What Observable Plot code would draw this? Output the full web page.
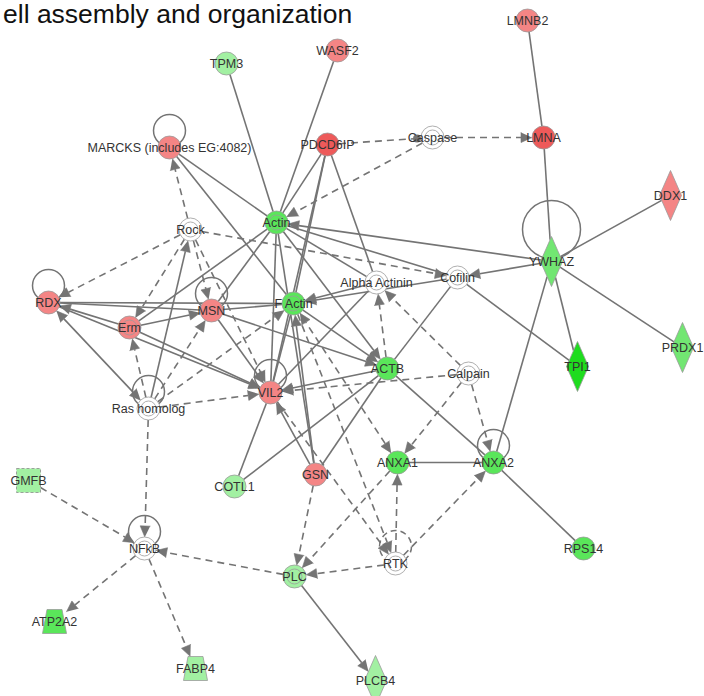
<!DOCTYPE html>
<html>
<head>
<meta charset="utf-8">
<script src="https://cdn.jsdelivr.net/npm/d3@7"></script>
<script src="https://cdn.jsdelivr.net/npm/@observablehq/plot@0.6"></script>
<style>
  html, body { margin: 0; padding: 0; background: #fff; }
  #wrap { position: relative; width: 704px; height: 696px; }
  #title { position: absolute; top: 1px; left: 3px; font: 26.5px/26px "Liberation Sans", Arial, sans-serif; color: #111; white-space: nowrap; z-index: 2; }
  #chart svg { display: block; }
</style>
</head>
<body>
<div id="wrap">
  <div id="title">ell assembly and organization</div>
  <div id="chart"></div>
</div>
<script>
// Network layout: molecules with their layout position, shape, grouping and regulation.
const nodeNames = ["LMNB2", "WASF2", "TPM3", "MARCKS (includes EG:4082)", "PDCD6IP", "Caspase", "LMNA", "DDX1",
  "Actin", "Rock", "YWHAZ", "Cofilin", "Alpha Actinin", "RDX", "Erm", "MSN", "F Actin", "ACTB", "Calpain",
  "TPI1", "PRDX1", "VIL2", "Ras homolog", "ANXA1", "ANXA2", "GSN", "COTL1", "GMFB", "NFkB", "PLC", "RTK",
  "RPS14", "ATP2A2", "FABP4", "PLCB4"];
const nodeX = [527, 337, 226, 169, 327, 432, 543, 670,
  276, 190, 551, 457, 376, 48, 129, 211, 293, 387, 468,
  577, 682, 270, 148, 397, 493, 315, 234, 28, 144, 294, 395,
  583, 54, 195, 375];
const nodeY = [20, 50, 63, 147, 144, 137, 137, 195,
  222, 229, 261, 277, 282, 302, 327, 310, 303, 368, 373,
  366, 347, 392, 408, 462, 462, 474, 486, 480, 548, 576, 563,
  548, 621, 668, 680];
const nodeShape = ["circle", "circle", "circle", "circle", "circle", "circle", "circle", "diamond",
  "circle", "circle", "diamond", "circle", "circle", "circle", "circle", "circle", "circle", "circle", "circle",
  "diamond", "diamond", "circle", "circle", "circle", "circle", "circle", "circle", "square", "circle", "circle", "circle",
  "circle", "trapezoid", "trapezoid", "diamond"];
// groups and complexes carry an inner ring
const nodeGroup = [false, false, false, false, false, true, false, false,
  true, true, false, true, true, false, true, false, true, false, true,
  false, false, false, true, false, false, false, false, false, true, true, true,
  false, false, false, false];
const nodeRegulation = ["up", "up", "down", "up", "up+", "none", "up+", "up",
  "down+", "none", "down~", "none", "none", "up", "up", "up", "down+", "down+", "none",
  "down++", "down~", "up", "none", "down+", "down+", "up", "down", "down", "none", "down", "none",
  "down+", "down+", "down", "down"];

// Relationships: direct (solid) or indirect (dashed), with their end decoration.
const edgeFrom = ["TPM3", "WASF2", "LMNB2", "LMNA", "PDCD6IP", "Caspase", "Caspase", "PDCD6IP", "PDCD6IP",
  "PDCD6IP", "PDCD6IP", "MARCKS (includes EG:4082)", "MARCKS (includes EG:4082)", "Rock", "Rock", "Rock", "Rock",
  "Rock", "Rock", "Ras homolog", "YWHAZ", "YWHAZ", "YWHAZ", "YWHAZ", "YWHAZ", "YWHAZ", "Actin", "Actin",
  "Actin", "Actin", "Actin", "Actin", "RDX", "RDX", "MSN", "Erm", "Erm", "Erm", "RDX", "MSN", "MSN",
  "Ras homolog", "Ras homolog", "Ras homolog", "Ras homolog", "Ras homolog", "Ras homolog", "Alpha Actinin",
  "Cofilin", "ACTB", "Calpain", "Cofilin", "Cofilin", "F Actin", "F Actin", "GSN", "GSN", "GSN", "GSN", "GSN",
  "ANXA1", "VIL2", "F Actin", "VIL2", "ACTB", "Calpain", "COTL1", "COTL1", "ACTB", "Calpain", "Calpain",
  "ANXA1", "RTK", "RTK", "ANXA1", "RTK", "PLC", "PLC", "ANXA2", "GMFB", "NFkB", "NFkB"];
const edgeTo = ["Actin", "Actin", "LMNA", "YWHAZ", "Caspase", "LMNA", "Actin", "Actin", "F Actin",
  "Alpha Actinin", "VIL2", "Actin", "F Actin", "MARCKS (includes EG:4082)", "RDX", "Erm", "MSN",
  "VIL2", "Cofilin", "Rock", "Actin", "Cofilin", "DDX1", "PRDX1", "TPI1", "ANXA2", "Cofilin", "Alpha Actinin",
  "VIL2", "Erm", "MSN", "ACTB", "F Actin", "MSN", "F Actin", "MSN", "RDX", "VIL2", "VIL2", "VIL2", "ACTB",
  "RDX", "Erm", "MSN", "F Actin", "VIL2", "NFkB", "F Actin",
  "F Actin", "Alpha Actinin", "Alpha Actinin", "ACTB", "TPI1", "ACTB", "VIL2", "F Actin", "Actin", "VIL2", "ACTB", "PLC",
  "F Actin", "RTK", "RTK", "Alpha Actinin", "VIL2", "VIL2", "VIL2", "ACTB", "ANXA2", "ANXA1", "ANXA2",
  "ANXA2", "ANXA1", "ANXA2", "PLC", "PLC", "NFkB", "PLCB4", "RPS14", "NFkB", "ATP2A2", "FABP4"];
const edgeKind = ["direct", "direct", "direct", "direct", "indirect", "indirect", "indirect", "direct", "direct",
  "direct", "direct", "direct", "direct", "indirect", "indirect", "indirect", "indirect",
  "indirect", "indirect", "direct", "direct", "direct", "direct", "direct", "direct", "direct", "direct", "direct",
  "direct", "direct", "direct", "direct", "direct", "direct", "direct", "direct", "direct", "direct", "direct", "direct", "direct",
  "direct", "indirect", "indirect", "indirect", "indirect", "indirect", "direct",
  "direct", "indirect", "indirect", "direct", "direct", "direct", "direct", "direct", "direct", "direct", "direct", "indirect",
  "indirect", "indirect", "indirect", "direct", "direct", "indirect", "direct", "direct", "direct", "indirect", "indirect",
  "direct", "indirect", "indirect", "indirect", "indirect", "indirect", "direct", "direct", "indirect", "indirect", "indirect"];
const edgeEnd = ["none", "none", "none", "none", "dot", "arrow", "arrow", "none", "none",
  "none", "none", "none", "none", "arrow", "arrow", "arrow", "arrow",
  "arrow", "arrow", "arrow", "arrow", "arrow", "none", "none", "none", "none", "none", "none",
  "none", "none", "none", "arrow", "none", "none", "none", "arrow", "arrow", "arrow", "arrow", "arrow", "arrow",
  "both", "arrow", "arrow", "arrow", "arrow", "arrow", "arrow",
  "arrow", "arrow", "arrow", "none", "none", "arrow", "none", "arrow", "none", "arrow", "none", "arrow",
  "both", "arrow", "arrow", "none", "arrow", "arrow", "none", "none", "none", "arrow", "arrow",
  "none", "arrow", "arrow", "arrow", "arrow", "arrow", "arrow", "none", "arrow", "arrow", "arrow"];

// Self-regulating molecules
const loopNodes = ["MARCKS (includes EG:4082)", "RDX", "MSN", "VIL2", "Ras homolog", "NFkB", "ANXA2", "YWHAZ", "RTK"];
const loopKind = ["direct", "direct", "direct", "direct", "direct", "direct", "direct", "direct", "indirect"];

// ---- drawing ----
const regulationColor = {
  "up": "#f48585", "up+": "#ee5a5a", "none": "#ffffff",
  "down": "#a2f0a2", "down~": "#72e672", "down+": "#5ae65a", "down++": "#1edc1e"
};
const EDGE = "#747474";
const NODE_R = 11.5, HEAD_LEN = 11, HEAD_HALF = 5;

const nodes = nodeNames.map((name, i) => ({
  name, x: nodeX[i], y: nodeY[i], shape: nodeShape[i], group: nodeGroup[i],
  color: regulationColor[nodeRegulation[i]]
}));
const byName = new Map(nodes.map(n => [n.name, n]));

// distance from a node centre to its outline along a unit direction
function reach(n, ux, uy) {
  if (n.shape === "diamond") return 1 / (Math.abs(ux) / 11 + Math.abs(uy) / 25);
  if (n.shape === "square" || n.shape === "trapezoid") return 1 / Math.max(Math.abs(ux) / 12, Math.abs(uy) / 12);
  return NODE_R;
}

const segments = [], heads = [], knobs = [];
function head(tx, ty, ux, uy, id) {
  const bx = tx - ux * HEAD_LEN, by = ty - uy * HEAD_LEN;
  heads.push({id, x: tx, y: ty},
             {id, x: bx - uy * HEAD_HALF, y: by + ux * HEAD_HALF},
             {id, x: bx + uy * HEAD_HALF, y: by - ux * HEAD_HALF});
}
edgeFrom.forEach((f, i) => {
  const a = byName.get(f), b = byName.get(edgeTo[i]);
  const dx = b.x - a.x, dy = b.y - a.y, L = Math.hypot(dx, dy);
  const ux = dx / L, uy = dy / L;
  const s = reach(a, ux, uy), t = reach(b, ux, uy);
  let x1 = a.x + ux * s, y1 = a.y + uy * s, x2 = b.x - ux * t, y2 = b.y - uy * t;
  const end = edgeEnd[i];
  if (end === "arrow" || end === "both") { head(x2, y2, ux, uy, i + "e"); x2 -= ux * HEAD_LEN; y2 -= uy * HEAD_LEN; }
  if (end === "both") { head(x1, y1, -ux, -uy, i + "s"); x1 += ux * HEAD_LEN; y1 += uy * HEAD_LEN; }
  if (end === "dot") { knobs.push({x: x2 - ux * 4, y: y2 - uy * 4}); x2 -= ux * 4; y2 -= uy * 4; }
  segments.push({x1, y1, x2, y2, kind: edgeKind[i]});
});

const loops = loopNodes.map((name, i) => {
  const n = byName.get(name);
  const r = name === "YWHAZ" ? 29 : 16;
  return {x: n.x, y: n.y - (name === "YWHAZ" ? 32 : 17), r, kind: loopKind[i]};
});

// custom outlines for non-circular molecules
const diamond = {draw(ctx) { ctx.moveTo(0, -25); ctx.lineTo(11, 0); ctx.lineTo(0, 25); ctx.lineTo(-11, 0); ctx.closePath(); }};
const trapezoid = {draw(ctx) { ctx.moveTo(-7.5, -12); ctx.lineTo(7.5, -12); ctx.lineTo(12, 12); ctx.lineTo(-12, 12); ctx.closePath(); }};
const square = {draw(ctx) { ctx.moveTo(-12, -12); ctx.lineTo(12, -12); ctx.lineTo(12, 12); ctx.lineTo(-12, 12); ctx.closePath(); }};

const nodeStroke = {stroke: "#9a9a9a", strokeWidth: 0.8};

const chart = Plot.plot({
  width: 704, height: 696, margin: 0,
  x: {domain: [0, 704], range: [0, 704], axis: null},
  y: {domain: [0, 696], range: [0, 696], axis: null},
  r: {type: "identity"},
  style: {fontFamily: "'Liberation Sans', Arial, sans-serif", background: "transparent"},
  marks: [
    Plot.link(segments.filter(d => d.kind === "direct"), {x1: "x1", y1: "y1", x2: "x2", y2: "y2", stroke: EDGE, strokeWidth: 1.6}),
    Plot.link(segments.filter(d => d.kind === "indirect"), {x1: "x1", y1: "y1", x2: "x2", y2: "y2", stroke: EDGE, strokeWidth: 1.6, strokeDasharray: "7,5"}),
    Plot.dot(loops.filter(d => d.kind === "direct"), {x: "x", y: "y", r: "r", stroke: EDGE, strokeWidth: 1.5, fill: "none"}),
    Plot.dot(loops.filter(d => d.kind === "indirect"), {x: "x", y: "y", r: "r", stroke: EDGE, strokeWidth: 1.5, fill: "none", strokeDasharray: "6,4"}),
    Plot.line(heads, {x: "x", y: "y", z: "id", fill: EDGE, stroke: EDGE, strokeWidth: 0.6}),
    Plot.dot(knobs, {x: "x", y: "y", r: 4, fill: EDGE}),
    Plot.dot(nodes.filter(d => d.shape === "circle"), {x: "x", y: "y", r: NODE_R, fill: "color", ...nodeStroke}),
    Plot.dot(nodes.filter(d => d.shape === "diamond"), {x: "x", y: "y", symbol: diamond, r: NODE_R, fill: "color", ...nodeStroke}),
    Plot.dot(nodes.filter(d => d.shape === "trapezoid"), {x: "x", y: "y", symbol: trapezoid, r: NODE_R, fill: "color", ...nodeStroke}),
    Plot.dot(nodes.filter(d => d.shape === "square"), {x: "x", y: "y", symbol: square, r: NODE_R, fill: "color", stroke: "#8a8a8a", strokeWidth: 0.8, strokeDasharray: "3,2"}),
    Plot.dot(nodes.filter(d => d.group), {x: "x", y: "y", r: 7.5, fill: "none", stroke: "#9a9a9a", strokeWidth: 0.8}),
    Plot.text(nodes, {x: "x", y: "y", text: "name", fontSize: 12.5, fill: "#333"})
  ]
});
document.getElementById("chart").append(chart);
</script>
</body>
</html>
